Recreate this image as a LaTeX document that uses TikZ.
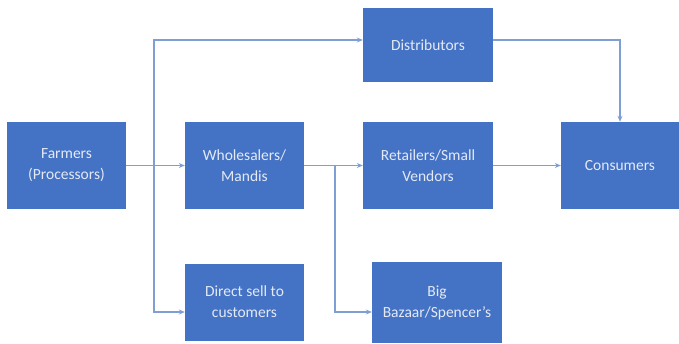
\documentclass[tikz,border=0pt]{standalone}
\usepackage{fontspec}
\setmainfont{Carlito}
\usepackage{tikz}
\usetikzlibrary{arrows.meta, positioning, calc}
\definecolor{boxblue}{HTML}{4472C4}
\definecolor{lineblue}{HTML}{7F9FD4}
\definecolor{txtblue}{HTML}{E4EAF5}
\tikzset{
  actor/.style={rectangle, draw=none, fill=boxblue, text=txtblue, align=center,
                inner sep=0pt, font=\fontsize{15.5}{21}\selectfont},
  arc/.style={-{Stealth[length=6pt, width=5pt]}, draw=lineblue, line width=1.1pt},
  seg/.style={draw=lineblue, line width=1.1pt}
}

\begin{document}
\begin{tikzpicture}[x=1pt, y=-1pt]
    \useasboundingbox (0,0) rectangle (679,343);
    \node[actor, minimum width=119pt, minimum height=87pt] (farm) at (66.5,165.5)
         {Farmers\\(Processors)};
    \node[actor, minimum width=119pt, minimum height=87pt] (whole) at (244.5,165.5)
         {Wholesalers/\\Mandis};
    \node[actor, minimum width=130pt, minimum height=74pt] (dist) at (428,45)
         {Distributors};
    \node[actor, minimum width=130pt, minimum height=87pt] (retail) at (428,165.5)
         {Retailers/Small\\Vendors};
    \node[actor, minimum width=118pt, minimum height=87pt] (cons) at (620,165.5)
         {Consumers};
    \node[actor, minimum width=119pt, minimum height=77pt] (direct) at (244.5,302)
         {Direct sell to\\customers};
    \node[actor, minimum width=130pt, minimum height=81pt] (big) at (437,302.5)
         {Big\\Bazaar/Spencer’s};
    % branching points
    \coordinate (fsplit) at (154,166);
    \coordinate (wsplit) at (335,166);
    \draw[arc] (farm.east) -- (whole.west);
    \draw[arc] (fsplit) |- ([yshift=5pt]dist.west);
    \draw[arc] (fsplit) |- ([yshift=-10pt]direct.west);
    \draw[arc] (whole.east) -- (retail.west);
    \draw[arc] (wsplit) |- ([yshift=-9.5pt]big.west);
    \draw[arc] ([yshift=5pt]dist.east) -| (cons.north);
    \draw[arc] (retail.east) -- (cons.west);
\end{tikzpicture}
\end{document}
